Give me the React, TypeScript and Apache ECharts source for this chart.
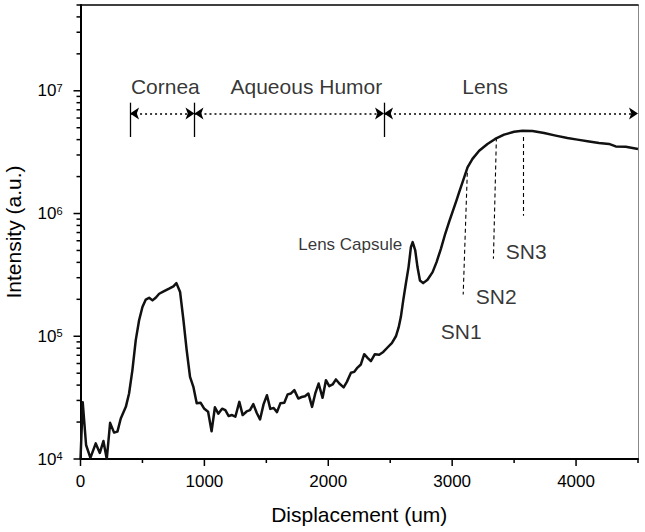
import React, { useEffect, useRef } from 'react';
import * as echarts from 'echarts';

const FONT = '"Liberation Sans", Arial, Helvetica, sans-serif';

// Measured profile: displacement (um) vs intensity (a.u.)
const displacement = [
  0, 18, 45, 80, 123, 156, 185, 212, 239, 271, 298, 325, 366, 392, 419, 446, 473, 500, 527, 554,
  581, 607, 635, 675, 715, 750, 774, 804, 831, 857, 884, 911, 938, 970, 997, 1030, 1058, 1085, 1112, 1143,
  1169, 1196, 1223, 1250, 1282, 1309, 1341, 1368, 1395, 1422, 1449, 1478, 1505, 1532, 1559, 1586, 1613, 1645, 1672, 1699,
  1726, 1758, 1785, 1812, 1839, 1869, 1895, 1922, 1954, 1981, 2008, 2035, 2062, 2089, 2124, 2150, 2183, 2210, 2236, 2263,
  2290, 2317, 2344, 2376, 2411, 2444, 2478, 2513, 2546, 2568, 2586, 2605, 2626, 2648, 2667, 2681, 2702, 2720, 2740, 2766,
  2801, 2842, 2874, 2909, 2944, 2976, 3003, 3035, 3056, 3097, 3124, 3164, 3218, 3285, 3347, 3419, 3500, 3567, 3648, 3742,
  3836, 3930, 4011, 4105, 4185, 4266, 4320, 4401, 4500,
];
const intensity = [
  1.0e4, 2.9e4, 1.3e4, 1.02e4, 1.34e4, 1.12e4, 1.4e4, 1.0e4, 1.97e4, 1.64e4, 1.67e4, 2.14e4, 2.66e4, 3.42e4, 5.3e4, 9.3e4, 1.35e5, 1.73e5, 1.99e5, 2.06e5,
  1.96e5, 2.06e5, 2.22e5, 2.33e5, 2.44e5, 2.55e5, 2.71e5, 2.29e5, 1.35e5, 7.7e4, 4.67e4, 3.87e4, 2.84e4, 2.87e4, 2.58e4, 2.43e4, 1.68e4, 2.64e4, 2.34e4, 2.57e4,
  2.5e4, 2.24e4, 2.28e4, 2.21e4, 2.92e4, 2.28e4, 2.44e4, 2.5e4, 2.8e4, 2.38e4, 2.1e4, 2.8e4, 3.31e4, 2.56e4, 2.6e4, 2.41e4, 2.84e4, 2.87e4, 3.36e4, 3.42e4,
  3.64e4, 3.11e4, 3.2e4, 3.25e4, 3.42e4, 2.66e4, 3.42e4, 4.12e4, 3.15e4, 4.39e4, 3.92e4, 4.05e4, 4.45e4, 4.12e4, 3.83e4, 4.25e4, 5.04e4, 5.13e4, 5.56e4, 5.89e4,
  7.14e4, 6.67e4, 6.27e4, 7.14e4, 7.08e4, 7.45e4, 8.1e4, 8.8e4, 1.0e5, 1.18e5, 1.44e5, 1.96e5, 2.68e5, 3.66e5, 5.32e5, 5.85e5, 5.0e5, 3.66e5, 2.85e5, 2.71e5,
  2.89e5, 3.33e5, 4.02e5, 5.16e5, 6.84e5, 8.6e5, 1.03e6, 1.28e6, 1.49e6, 1.97e6, 2.38e6, 2.79e6, 3.25e6, 3.69e6, 4.05e6, 4.39e6, 4.64e6, 4.73e6, 4.71e6, 4.53e6,
  4.31e6, 4.12e6, 4.0e6, 3.87e6, 3.76e6, 3.69e6, 3.52e6, 3.5e6, 3.36e6,
];

// Axis ranges and ticks
const xMin = 0;
const xMax = 4500;
const xMajorTicks = [0, 1000, 2000, 3000, 4000];
const xMinorTicks = [500, 1500, 2500, 3500, 4500];
const yMin = 1e4;
const yMax = 5e7;
const yDecades = [1e4, 1e5, 1e6, 1e7];
const yMinorMultipliers = [2, 3, 4, 5, 6, 7, 8, 9];

// Region annotations
const regionNames = ['Cornea', 'Aqueous Humor', 'Lens'];
const regionBounds = [400, 920, 2450, 4500];
const regionLabelX = [685, 1823, 3266];
const regionLabelY = 1.09e7;
const regionArrowY = 6.53e6;
const regionBarTop = 8.0e6;
const regionBarBottom = 4.2e6;

// Peak labels & lines
const capsuleLabel = { name: 'Lens Capsule', x: 2177, y: 5.6e5 };
const snNames = ['SN1', 'SN2', 'SN3'];
const snLineTop = [[3124, 2.45e6], [3357, 4.17e6], [3575, 4.2e6]];
const snLineBottom = [[3089, 2.19e5], [3333, 4.28e5], [3575, 9.6e5]];
const snLabelPos = [[3073, 1.1e5], [3355, 2.11e5], [3597, 4.91e5]];

function buildOption() {
  const lineData = displacement.map((x, i) => [x, intensity[i]]);

  const yMinor: number[] = [];
  yDecades.forEach((d) => yMinorMultipliers.forEach((m) => { if (m * d <= yMax) yMinor.push(m * d); }));
  const yTickData = [
    ...yDecades.map((v) => [xMin, v, 1]),
    ...yMinor.map((v) => [xMin, v, 0]),
  ];
  const xTickData = [
    ...xMajorTicks.map((v) => [v, yMin, 1]),
    ...xMinorTicks.map((v) => [v, yMin, 0]),
  ];

  const dotted = { color: '#000', width: 1.5, type: [2, 3] as number[] };
  const solid = { color: '#000', width: 1.3, type: 'solid' };
  const dashed = { color: '#000', width: 1.1, type: [4, 3] as number[] };

  const markData: any[] = [];
  for (let i = 0; i < regionNames.length; i++) {
    markData.push([
      { coord: [regionBounds[i], regionArrowY], symbol: 'arrow', symbolSize: 9, lineStyle: dotted },
      { coord: [regionBounds[i + 1], regionArrowY], symbol: 'arrow', symbolSize: 9 },
    ]);
  }
  for (let i = 0; i < 3; i++) {
    markData.push([
      { coord: [regionBounds[i], regionBarTop], symbol: 'none', lineStyle: solid },
      { coord: [regionBounds[i], regionBarBottom], symbol: 'none' },
    ]);
  }
  for (let i = 0; i < snNames.length; i++) {
    markData.push([
      { coord: snLineTop[i], symbol: 'none', lineStyle: dashed },
      { coord: snLineBottom[i], symbol: 'none' },
    ]);
  }

  const textData: any[] = [
    ...regionNames.map((n, i) => ({ name: n, value: [regionLabelX[i], regionLabelY], label: { fontSize: 21 } })),
    ...snNames.map((n, i) => ({ name: n, value: snLabelPos[i], label: { fontSize: 21 } })),
    { name: capsuleLabel.name, value: [capsuleLabel.x, capsuleLabel.y], label: { fontSize: 17 } },
  ];

  const tickRender = (isY: boolean) => (params: any, api: any) => {
    const p = api.coord([api.value(0), api.value(1)]);
    const len = api.value(2) === 1 ? 7 : 4;
    const shape = isY
      ? { x1: p[0] - len, y1: p[1], x2: p[0], y2: p[1] }
      : { x1: p[0], y1: p[1], x2: p[0], y2: p[1] + len };
    return { type: 'line', shape, style: { stroke: '#000', lineWidth: 1.5 } };
  };

  return {
    animation: false,
    backgroundColor: '#fff',
    textStyle: { fontFamily: FONT },
    grid: { left: 80.5, right: 7, top: 5, bottom: 73, outerBoundsMode: 'none' },
    xAxis: [
      {
        type: 'value', min: xMin, max: xMax, interval: 1000, position: 'bottom',
        axisLine: { show: true, onZero: false, lineStyle: { color: '#000', width: 2 } },
        axisTick: { show: false }, splitLine: { show: false },
        axisLabel: {
          color: '#000', fontSize: 17, fontFamily: FONT, margin: 14,
          formatter: (v: number) => (v % 1000 === 0 ? String(v) : ''),
        },
        name: 'Displacement (um)', nameLocation: 'middle', nameGap: 45,
        nameTextStyle: { fontSize: 21, color: '#000', fontFamily: FONT },
      },
      {
        type: 'value', min: xMin, max: xMax, position: 'top',
        axisLine: { show: true, onZero: false, lineStyle: { color: '#000', width: 1.5 } },
        axisTick: { show: false }, axisLabel: { show: false }, splitLine: { show: false },
      },
    ],
    yAxis: [
      {
        type: 'log', logBase: 10, min: yMin, max: yMax, position: 'left',
        axisLine: { show: true, onZero: false, lineStyle: { color: '#000', width: 2 } },
        axisTick: { show: false }, splitLine: { show: false }, minorTick: { show: false },
        axisLabel: {
          margin: 18,
          formatter: (v: number) => {
            const e = Math.log10(v);
            const r = Math.round(e);
            if (Math.abs(e - r) > 1e-6) return '';
            return `{b|10}{s|${r}}`;
          },
          rich: {
            b: { fontSize: 17, fontFamily: FONT, color: '#000', lineHeight: 17 },
            s: { fontSize: 11, fontFamily: FONT, color: '#000', lineHeight: 11, verticalAlign: 'top' },
          },
        },
        name: 'Intensity (a.u.)', nameLocation: 'middle', nameGap: 57,
        nameTextStyle: { fontSize: 21, color: '#000', fontFamily: FONT },
      },
      {
        type: 'log', logBase: 10, min: yMin, max: yMax, position: 'right',
        axisLine: { show: true, onZero: false, lineStyle: { color: '#888', width: 1 } },
        axisTick: { show: false }, axisLabel: { show: false }, splitLine: { show: false },
      },
    ],
    series: [
      {
        type: 'line', data: lineData, symbol: 'none', silent: true, z: 5,
        lineStyle: { color: '#111', width: 2.5, join: 'round' },
        markLine: {
          silent: true, symbol: 'none', label: { show: false },
          emphasis: { disabled: true },
          data: markData,
        },
      },
      {
        type: 'scatter', data: textData, symbolSize: 1, silent: true, z: 6,
        itemStyle: { color: 'transparent' },
        label: { show: true, position: 'inside', formatter: '{b}', color: '#000', fontFamily: FONT, fontSize: 21 },
      },
      {
        type: 'custom', data: yTickData, renderItem: tickRender(true), silent: true, clip: false, z: 7,
        encode: { x: 0, y: 1 },
      },
      {
        type: 'custom', data: xTickData, renderItem: tickRender(false), silent: true, clip: false, z: 7,
        encode: { x: 0, y: 1 },
      },
    ],
  };
}

export default function App() {
  const ref = useRef<HTMLDivElement>(null);
  useEffect(() => {
    const chart = echarts.init(ref.current!, null, { renderer: 'svg' });
    chart.setOption(buildOption() as any);
    return () => chart.dispose();
  }, []);
  return <div ref={ref} style={{ position: 'fixed', left: 0, top: 0, width: 645, height: 532 }} />;
}
